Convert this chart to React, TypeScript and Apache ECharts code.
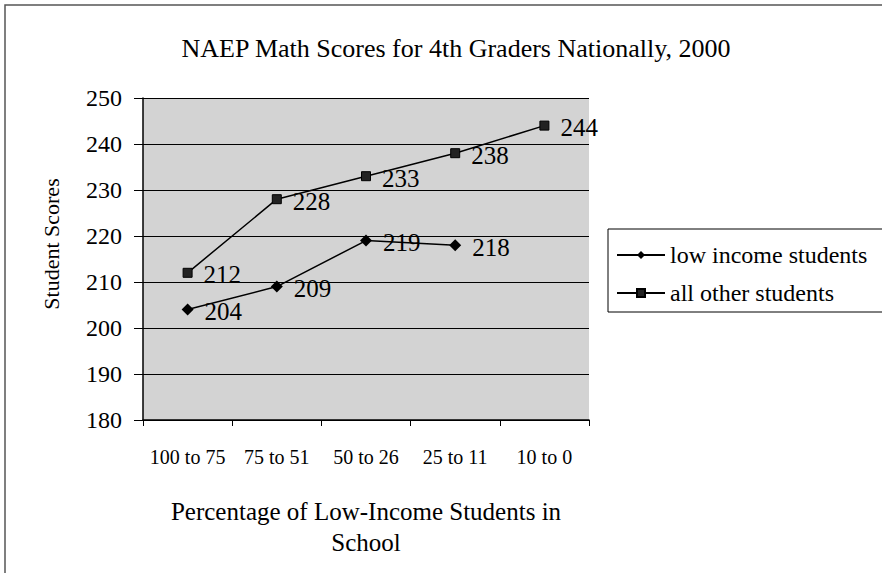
import React, { useEffect, useRef } from "react";
import * as echarts from "echarts";

const categories = ["100 to 75", "75 to 51", "50 to 26", "25 to 11", "10 to 0"];
const lowIncome = [204, 209, 219, 218, null];
const allOther = [212, 228, 233, 238, 244];
const yTicks = { min: 180, max: 250, interval: 10 };
const titleText = "NAEP Math Scores for 4th Graders Nationally, 2000";
const xName = "Percentage of Low-Income Students in\nSchool";
const yName = "Student Scores";
const seriesNames = ["low income students", "all other students"];

const FONT = "Liberation Serif";

export default function App() {
  const ref = useRef<HTMLDivElement>(null);
  useEffect(() => {
    document.body.style.margin = "0";
    const chart = echarts.init(ref.current!, null, { renderer: "svg" });
    const labelStyle = {
      show: true,
      position: "right" as const,
      distance: 11,
      offset: [0, 2],
      fontFamily: FONT,
      fontSize: 25,
      color: "#000",
    };
    chart.setOption({
      animation: false,
      backgroundColor: "#fff",
      title: {
        text: titleText,
        left: 451,
        top: 30,
        textAlign: "center",
        textStyle: { fontFamily: FONT, fontSize: 26, fontWeight: "normal", color: "#000" },
      },
      graphic: [
        {
          type: "polyline",
          shape: { points: [[5, 600], [5, 5], [882, 5]] },
          style: { stroke: "#555", lineWidth: 1.5, fill: null },
        },
        {
          type: "text",
          x: 51,
          y: 244,
          rotation: Math.PI / 2,
          style: {
            text: yName,
            fontFamily: FONT,
            fontSize: 22,
            fill: "#000",
            align: "center",
            verticalAlign: "middle",
          },
        },
      ],
      legend: {
        left: 608,
        top: 229,
        orient: "vertical",
        itemWidth: 48,
        itemHeight: 10,
        itemGap: 14,
        padding: [14, 40, 7, 8],
        borderColor: "#000",
        borderWidth: 1,
        textStyle: { fontFamily: FONT, fontSize: 24, color: "#000" },
        data: seriesNames,
      },
      grid: { left: 143, top: 98, width: 446, height: 322, backgroundColor: "#d3d3d3", show: true, borderWidth: 0 },
      xAxis: {
        type: "category",
        data: categories,
        boundaryGap: true,
        name: xName,
        nameLocation: "middle",
        nameGap: 76,
        nameTextStyle: { fontFamily: FONT, fontSize: 25, color: "#000", lineHeight: 31 },
        axisLine: { lineStyle: { color: "#000", width: 1.5 } },
        axisTick: { show: true, length: 6, lineStyle: { color: "#000" } },
        axisLabel: { fontFamily: FONT, fontSize: 20, color: "#000", margin: 27, interval: 0 },
      },
      yAxis: {
        type: "value",
        min: yTicks.min,
        max: yTicks.max,
        interval: yTicks.interval,
        axisLine: { show: true, lineStyle: { color: "#000", width: 1.5 } },
        axisTick: { show: true, length: 9, lineStyle: { color: "#000" } },
        axisLabel: { fontFamily: FONT, fontSize: 24, color: "#000", margin: 21 },
        splitLine: { show: true, lineStyle: { color: "#000", width: 1.2 } },
      },
      series: [
        {
          name: seriesNames[0],
          type: "line",
          data: lowIncome,
          symbol: "diamond",
          symbolSize: 12,
          itemStyle: { color: "#000" },
          lineStyle: { color: "#000", width: 1.5 },
          label: labelStyle,
        },
        {
          name: seriesNames[1],
          type: "line",
          data: allOther,
          symbol: "rect",
          symbolSize: 9,
          itemStyle: { color: "#222", borderColor: "#000", borderWidth: 1 },
          lineStyle: { color: "#000", width: 1.5 },
          label: labelStyle,
        },
      ],
    });
    return () => chart.dispose();
  }, []);
  return <div ref={ref} style={{ width: 882, height: 573 }} />;
}
